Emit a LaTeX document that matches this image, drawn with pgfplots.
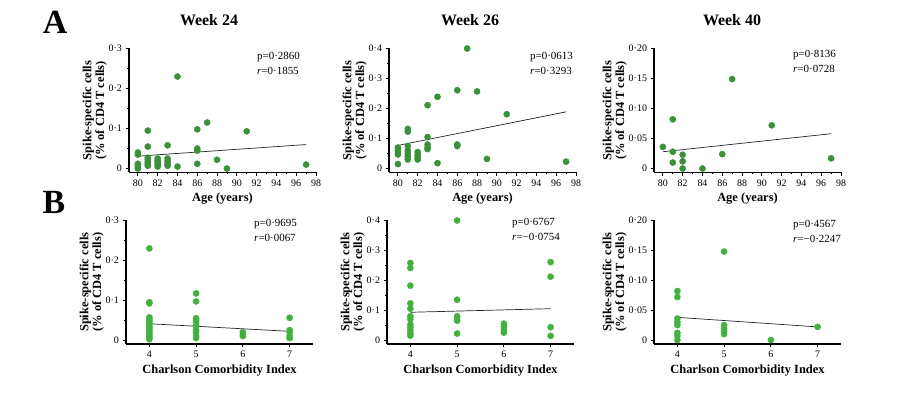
\documentclass[border=0pt]{standalone}
\usepackage{pgfplots}
\pgfplotsset{compat=1.18}
\usepackage{fontspec}
\setmainfont{Liberation Serif}
\definecolor{dotA}{RGB}{58,145,58}
\definecolor{dotB}{RGB}{66,178,62}
\pgfplotsset{
 panel/.style={scale only axis, width=187bp,
   axis x line*=bottom, axis y line*=left,
   axis line style={line width=1.1bp, black},
   every tick/.style={line width=0.9bp, black},
   tick align=outside, major tick length=3.5bp, minor tick length=2bp,
   ticklabel style={font=\fontsize{10}{10}\selectfont},
   xlabel style={font=\bfseries\fontsize{12.5}{13}\selectfont},
   ylabel style={align=center, font=\bfseries\fontsize{12.5}{13}\selectfont, yshift=-5bp},
   clip=false, /pgf/number format/assume math mode=true},
 panelA/.style={panel, height=124bp, xmin=79.1, xmax=98,
   xtick={80,82,...,98}, minor xtick={81,83,...,97},
   xticklabels={80,82,84,86,88,90,92,94,96,98},
   xlabel={Age (years)}},
 panelB/.style={panel, height=123.5bp, xmin=3.5, xmax=7.5,
   xtick={4,5,6,7}, xticklabels={4,5,6,7},
   xlabel={Charlson Comorbidity Index}},
 ylab/.style={ylabel={Spike-specific cells\\(\% of CD4 T cells)}},
 dotsA/.style={only marks, mark=*, mark size=3.1bp, color=dotA, fill=dotA},
 dotsB/.style={only marks, mark=*, mark size=3.1bp, color=dotB, fill=dotB},
 fitline/.style={no marks, black!85, line width=0.7bp},
 ticks3/.style={ymin=-0.0098, ymax=0.3, ytick={0,0.1,0.2,0.3}, minor ytick={0.05,0.15,0.25}, yticklabels={0,0·1,0·2,0·3}},
 ticks4/.style={ymin=-0.0131, ymax=0.4, ytick={0,0.1,0.2,0.3,0.4}, minor ytick={0.05,0.15,0.25,0.35}, yticklabels={0,0·1,0·2,0·3,0·4}},
 ticks2/.style={ymin=-0.0066, ymax=0.2, ytick={0,0.05,0.1,0.15,0.2}, yticklabels={0,0·05,0·10,0·15,0·20}},
}
\begin{document}
\begin{tikzpicture}
\useasboundingbox (0bp,0bp) rectangle (900bp,395bp);
% panel letters and titles
\node[font=\bfseries\fontsize{34}{34}\selectfont] at (55bp,373bp) {A};
\node[font=\bfseries\fontsize{34}{34}\selectfont] at (54bp,193bp) {B};
\node[font=\bfseries\fontsize{16}{16}\selectfont] at (209bp,375bp) {Week 24};
\node[font=\bfseries\fontsize{16}{16}\selectfont] at (470bp,375bp) {Week 26};
\node[font=\bfseries\fontsize{16}{16}\selectfont] at (732bp,375bp) {Week 40};
% ---------------- A: Week 24
\begin{axis}[panelA, ticks3, ylab, at={(129bp,222.5bp)}, anchor=south west]
\addplot[dotsA] coordinates {
(80,0.040)(80,0.035)(80,0.012)(80,0.008)(80,0.004)(80,0.000)
(81,0.095)(81,0.055)(81,0.027)(81,0.022)(81,0.017)(81,0.012)(81,0.007)
(82,0.025)(82,0.020)(82,0.015)(82,0.010)(82,0.005)
(83,0.058)(83,0.025)(83,0.018)(83,0.012)(83,0.007)
(84,0.230)(84,0.005)
(86,0.098)(86,0.050)(86,0.045)(86,0.012)
(87,0.115)(88,0.022)(89,0.000)(91,0.093)(97,0.010)};
\addplot[fitline] coordinates {(80,0.031)(97,0.060)};
\end{axis}
% ---------------- A: Week 26
\begin{axis}[panelA, ticks4, ylab, at={(389bp,222.5bp)}, anchor=south west]
\addplot[dotsA] coordinates {
(80,0.070)(80,0.062)(80,0.055)(80,0.047)(80,0.015)
(81,0.132)(81,0.123)(81,0.075)(81,0.060)(81,0.050)(81,0.040)(81,0.030)
(82,0.055)(82,0.045)(82,0.037)(82,0.030)
(83,0.211)(83,0.105)(83,0.080)(83,0.070)(83,0.065)
(84,0.239)(84,0.018)
(86,0.261)(86,0.080)(86,0.075)
(87,0.400)(88,0.257)(89,0.032)(91,0.181)(97,0.023)};
\addplot[fitline] coordinates {(80,0.077)(97,0.189)};
\end{axis}
% ---------------- A: Week 40
\begin{axis}[panelA, ticks2, ylab, at={(654bp,222.5bp)}, anchor=south west]
\addplot[dotsA] coordinates {
(80,0.036)(81,0.082)(81,0.028)(81,0.010)
(82,0.023)(82,0.012)(82,0.000)(84,0.000)(86,0.024)
(87,0.149)(91,0.072)(97,0.017)};
\addplot[fitline] coordinates {(80,0.028)(97,0.058)};
\end{axis}
% ---------------- B: Week 24
\begin{axis}[panelB, ticks3, ylab, at={(126bp,51bp)}, anchor=south west]
\addplot[dotsB] coordinates {
(4,0.230)(4,0.095)(4,0.092)(4,0.057)(4,0.052)(4,0.047)(4,0.042)(4,0.037)(4,0.032)(4,0.027)(4,0.022)(4,0.017)(4,0.012)(4,0.007)(4,0.002)
(5,0.117)(5,0.097)(5,0.055)(5,0.050)(5,0.045)(5,0.035)(5,0.025)(5,0.020)(5,0.010)(5,0.005)
(6,0.020)(6,0.015)(6,0.010)
(7,0.056)(7,0.025)(7,0.020)(7,0.010)(7,0.005)};
\addplot[fitline] coordinates {(4,0.041)(7,0.022)};
\end{axis}
% ---------------- B: Week 26
\begin{axis}[panelB, ticks4, ylab, at={(387bp,51bp)}, anchor=south west]
\addplot[dotsB] coordinates {
(4,0.258)(4,0.241)(4,0.182)(4,0.123)(4,0.105)(4,0.080)(4,0.070)(4,0.052)(4,0.042)(4,0.032)(4,0.022)(4,0.015)
(5,0.400)(5,0.135)(5,0.080)(5,0.075)(5,0.065)(5,0.022)
(6,0.055)(6,0.045)(6,0.035)(6,0.025)
(7,0.261)(7,0.212)(7,0.043)(7,0.014)};
\addplot[fitline] coordinates {(4,0.093)(7,0.105)};
\end{axis}
% ---------------- B: Week 40
\begin{axis}[panelB, ticks2, ylab, at={(654bp,51bp)}, anchor=south west]
\addplot[dotsB] coordinates {
(4,0.082)(4,0.072)(4,0.036)(4,0.030)(4,0.025)(4,0.012)(4,0.007)(4,0.000)
(5,0.148)(5,0.025)(5,0.020)(5,0.015)(5,0.010)
(6,0.000)(7,0.022)};
\addplot[fitline] coordinates {(4,0.038)(7,0.022)};
\end{axis}
% statistics
\begin{scope}[every node/.style={anchor=west, font=\fontsize{11}{11}\selectfont, inner sep=0pt}]
\node at (257bp,338bp) {p=0·2860};
\node at (257bp,324bp) {\textit{r}=0·1855};
\node at (530bp,338bp) {p=0·0613};
\node at (530bp,324bp) {\textit{r}=0·3293};
\node at (793bp,340bp) {p=0·8136};
\node at (793bp,326bp) {\textit{r}=0·0728};
\node at (254bp,171bp) {p=0·9695};
\node at (254bp,157bp) {\textit{r}=0·0067};
\node at (512bp,172bp) {p=0·6767};
\node at (512bp,158bp) {\textit{r}=−0·0754};
\node at (793bp,170bp) {p=0·4567};
\node at (793bp,156bp) {\textit{r}=−0·2247};
\end{scope}
\end{tikzpicture}
\end{document}
